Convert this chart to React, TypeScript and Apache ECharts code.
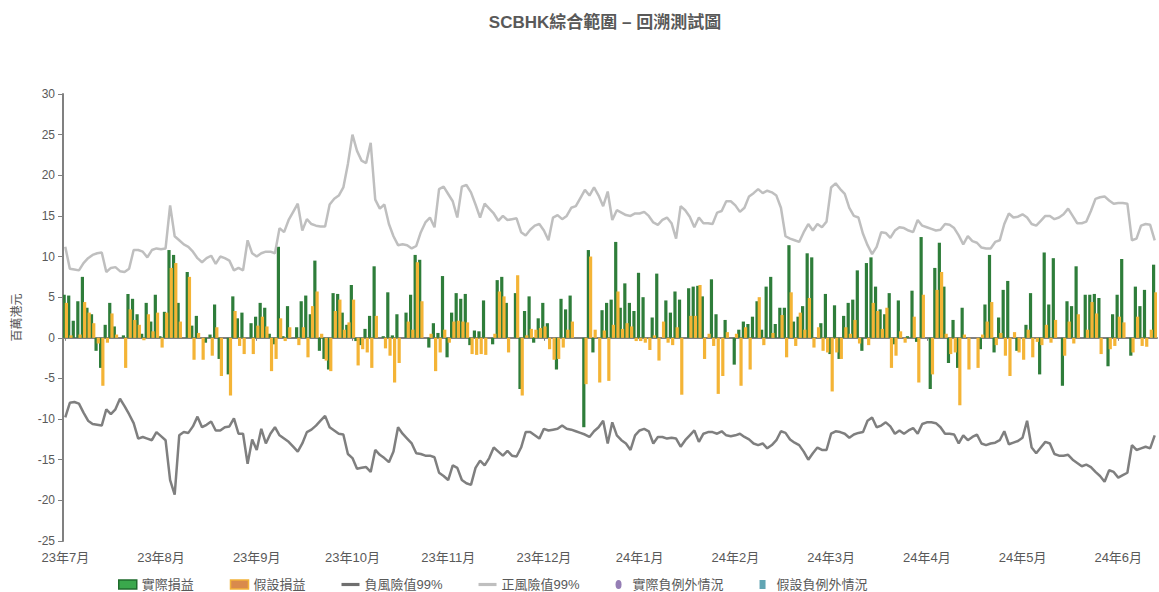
import React, { useEffect, useRef } from "react";
import * as echarts from "echarts";

const monthLabels = ["23年7月", "23年8月", "23年9月", "23年10月", "23年11月", "23年12月", "24年1月", "24年2月", "24年3月", "24年4月", "24年5月", "24年6月"];
const daysPerLabel = 21;
const yTicks = { min: -25, max: 30, interval: 5 };

// 實際損益
const actualPL = [
  5.3, 5.2, 2.1, 4.5, 7.5, 3.7, 2.9, -1.6, -3.7, 1.6, 4.3, 1.4, 0, 0.3, 5.4, 4.8, 2.9, 0.5, 4.3, 2.0,
  5.3, 0.2, 3.2, 10.8, 10.2, 4.3, 0, 8.1, 1.5, 2.7, 0, -0.6, 0.4, 4.1, -2.6, 0, -4.5, 5.1, 2.4, 3.1,
  0, 1.8, 2.6, 4.3, 3.7, 0.5, -0.8, 11.2, 0.2, 3.9, 0, 1.3, 4.5, 5.2, 2.9, 9.5, -1.6, -2.6, -3.9, 5.5,
  5.4, 3.1, 1.6, 6.5, -0.4, -0.9, 1.1, 2.7, 8.8, 0, 0.2, 5.6, 0.3, 2.9, 0, 3.1, 5.3, 10.2, 9.6, 0,
  -1.2, 1.8, 0.6, 7.6, -2.4, 3.1, 5.5, 4.8, 5.4, -0.9, 0.9, 0.8, 4.6, 0, -0.8, 7.1, 7.5, 4.3, 0, 5.5,
  -6.3, 3.3, 5.1, -0.6, 2.4, 4.3, 1.8, 0, -3.9, 4.8, 3.5, 5.2, 0, 0, -11.0, 10.8, -1.8, 0, 3.4, 4.3,
  4.7, 11.8, 3.7, 6.7, 4.3, 3.3, 8.0, 5.0, 0, 2.5, 7.9, 0, 4.6, 3.1, 5.7, 4.7, 0, 6.1, 6.3, 6.4,
  5.1, 0, 7.2, 2.9, 0, 2.2, 0, -3.3, 1.0, 2.0, 1.7, 2.6, 4.5, 1.0, 6.3, 7.5, 1.7, 3.7, 3.7, 11.4,
  2.0, 2.6, 3.9, 10.4, 9.9, 0, 1.8, 5.4, -2.0, 4.0, -2.6, 2.7, 4.3, 4.7, 8.3, -1.6, 9.2, 9.9, 6.3, 3.5,
  2.9, 5.5, -0.8, 4.6, 0, 0.2, 5.8, -0.5, 12.4, 0, -6.3, 8.6, 11.7, 6.3, -3.1, 2.2, -3.7, 3.7, 0, 0,
  0, -1.4, 4.1, 10.2, -1.8, 2.5, 5.9, 7.0, 0, -1.6, 0, 1.6, 5.5, 0, -4.5, 10.5, 4.1, 9.8, 0, -5.9,
  4.5, 3.9, 8.8, 0, 5.3, 5.3, 5.4, 4.9, 0, -3.5, 2.9, 5.3, 9.7, 0, -2.2, 6.3, 3.9, 5.9, 0, 9.0
];

// 假設損益
const hypotheticalPL = [
  4.3, 0.3, 0, 0.4, 4.4, 3.1, 1.8, -0.7, -5.9, -0.6, 3.0, 0.4, 0, -3.7, 3.5, 2.2, 1.6, -0.3, 2.9, 0.8,
  3.1, -1.2, 3.1, 8.6, 9.2, 2.0, 0, 7.5, -2.7, 0.6, -2.7, 0, -2.2, 1.3, -4.7, 0, -7.1, 3.3, -1.0, -2.0,
  0, -2.0, 1.5, 2.6, 1.4, -4.1, -2.6, 2.4, -0.4, 1.3, 0, -0.9, 1.3, -2.4, 3.9, 5.7, 0.5, -2.8, -4.1, 3.3,
  4.7, 1.0, 1.9, 4.7, -3.4, -1.4, -1.8, -3.7, 2.7, 0, -1.3, -2.2, -5.5, -3.1, 0, 2.0, 1.0, 9.3, 4.5, 0,
  0.5, -4.1, -1.8, 1.0, -0.6, 2.0, 2.1, 2.0, 1.9, -2.0, -2.1, -2.0, -2.1, 0, 0.5, 5.7, 5.1, -1.8, 0, 7.7,
  -7.1, 0.3, 1.1, 1.0, 1.2, 1.4, -1.4, -2.7, -2.6, -1.2, 1.0, 2.0, 0, 0, -5.7, 10.0, 1.0, -5.5, 0.9, -5.3,
  1.6, 5.7, 1.1, 1.8, 1.4, -0.4, -0.4, -0.6, -1.5, 0.3, -2.8, 2.0, -0.6, -0.9, 1.3, -7.0, 0, 2.7, 2.7, 6.5,
  -2.6, 0.5, -1.0, -6.9, -4.7, 0.7, 0, 0.5, -5.9, 1.3, -3.9, 0, 5.0, -0.9, 0, 0.6, 0, 2.8, -2.4, 5.6,
  -1.0, 3.1, 1.0, 4.9, -1.2, 1.3, -1.6, -1.8, -6.6, -1.8, -2.6, 1.3, 0.5, 2.2, -0.7, 0, -0.9, 4.3, 3.3, 1.1,
  3.7, -3.7, -2.2, 0.8, -0.6, 0, 2.6, -5.5, 5.3, 0, -4.5, 5.9, 8.1, 0.5, -2.0, -1.8, -8.3, 0.4, -3.9, 0,
  -3.7, 0.4, 2.0, 4.4, -0.9, 0.6, -2.2, -4.7, 0.7, -1.8, -2.7, 1.0, -2.4, -0.5, -0.9, 1.6, -0.6, 2.2, 0, -2.2,
  2.0, -0.7, 2.9, 0, 1.0, 4.4, 3.0, -2.0, 0, -1.4, -1.0, 2.6, 1.9, 0, -1.8, 2.6, -1.0, -1.1, 1.0, 5.6
];

// 負風險值99%
const negVaR = [
  -9.8, -8.0, -7.9, -8.1, -9.2, -10.2, -10.6, -10.7, -10.8, -8.8, -9.4, -8.8, -7.5, -8.4, -9.4, -10.5, -12.4, -12.2, -12.4, -12.6,
  -11.6, -12.1, -12.6, -17.5, -19.3, -12.0, -11.6, -11.7, -10.9, -9.7, -11.0, -10.7, -10.3, -11.4, -11.4, -11.0, -10.9, -9.9, -11.8, -11.8,
  -15.5, -12.5, -13.8, -11.2, -13.0, -11.8, -11.0, -12.0, -12.4, -12.8, -13.4, -14.0, -13.0, -11.6, -11.3, -10.8, -10.2, -9.6, -11.0, -11.4,
  -11.8, -11.9, -14.3, -14.8, -16.1, -16.0, -15.9, -16.5, -13.8, -14.4, -14.8, -15.3, -14.0, -11.0, -11.8, -12.4, -13.0, -14.2, -14.3, -14.5,
  -14.5, -14.7, -16.6, -17.0, -17.5, -15.7, -16.0, -17.5, -17.9, -18.1, -16.0, -15.1, -15.7, -14.8, -13.5, -14.0, -14.5, -13.9, -14.5, -14.6,
  -13.5, -11.6, -11.6, -12.0, -12.4, -11.2, -11.4, -11.3, -11.2, -10.8, -11.2, -11.3, -11.5, -11.7, -11.9, -12.2, -11.5, -11.0, -10.2, -13.0,
  -10.4, -12.0, -12.6, -13.0, -13.8, -12.0, -11.4, -11.2, -11.5, -13.0, -12.2, -12.2, -12.4, -12.3, -12.4, -13.4, -12.6, -12.0, -11.4, -12.8,
  -11.8, -11.6, -11.6, -11.8, -11.5, -12.0, -12.1, -12.0, -11.8, -12.2, -12.5, -13.0, -13.2, -13.0, -13.6, -13.2, -12.6, -11.5, -11.7, -12.5,
  -12.9, -13.2, -14.0, -15.0, -14.2, -13.5, -13.8, -13.8, -11.8, -11.5, -11.6, -11.8, -12.3, -11.9, -11.7, -11.6, -10.2, -9.8, -11.0, -10.8,
  -10.4, -10.9, -11.8, -11.4, -11.8, -11.4, -11.1, -11.8, -10.6, -10.4, -10.4, -10.5, -11.0, -11.8, -11.8, -11.9, -13.0, -12.0, -12.6, -12.2,
  -11.9, -13.0, -13.2, -13.0, -12.9, -12.6, -11.5, -13.1, -12.9, -12.7, -12.3, -10.2, -13.5, -14.2, -13.5, -12.8, -13.0, -14.3, -14.5, -14.5,
  -14.4, -15.0, -15.4, -15.8, -15.6, -15.9, -16.5, -17.0, -17.7, -16.3, -16.5, -17.2, -16.9, -16.6, -13.2, -13.8, -13.6, -13.4, -13.6, -12.0
];

// 正風險值99%
const posVaR = [
  11.2, 8.5, 8.4, 8.3, 9.2, 9.8, 10.2, 10.4, 10.5, 8.1, 8.6, 8.7, 8.2, 8.1, 8.5, 10.8, 10.8, 10.6, 9.9, 10.8,
  11.0, 10.9, 11.0, 16.3, 12.5, 12.0, 11.5, 11.2, 10.6, 9.8, 9.3, 9.8, 10.1, 9.1, 10.0, 9.8, 9.5, 8.3, 8.6, 8.3,
  12.0, 10.4, 10.0, 10.4, 10.6, 10.6, 10.4, 13.5, 13.0, 14.5, 15.5, 16.5, 13.2, 14.6, 14.0, 13.8, 13.7, 13.7, 16.4, 17.1,
  17.5, 18.5, 21.4, 25.0, 23.0, 21.8, 21.5, 24.0, 17.0, 15.9, 16.4, 14.0, 12.5, 11.4, 11.5, 11.4, 11.0, 11.3, 13.0, 14.2,
  14.8, 13.6, 18.3, 18.6, 17.7, 16.8, 14.8, 18.6, 18.8, 17.9, 16.4, 14.8, 16.5, 15.9, 15.3, 14.4, 15.0, 14.5, 14.6, 14.7,
  13.0, 12.6, 13.3, 13.8, 14.0, 13.2, 12.0, 14.8, 15.1, 14.6, 15.0, 16.0, 16.2, 17.2, 18.2, 17.5, 18.5, 17.5, 16.2, 18.0,
  14.5, 15.7, 15.4, 15.1, 15.0, 15.3, 15.3, 15.5, 15.0, 14.2, 13.9, 14.5, 14.8, 14.1, 12.2, 16.2, 15.7, 14.9, 13.6, 14.8,
  14.1, 14.1, 14.0, 15.4, 15.6, 16.8, 16.8, 16.3, 15.5, 16.0, 17.4, 17.8, 18.3, 17.8, 18.1, 17.9, 17.5, 16.0, 12.5, 12.2,
  12.0, 11.8, 13.0, 14.0, 13.2, 14.0, 13.6, 14.3, 18.5, 19.0, 18.3, 17.7, 16.0, 15.0, 14.8, 12.8, 11.4, 10.3, 11.2, 13.0,
  12.9, 12.3, 13.2, 13.6, 13.5, 13.2, 13.0, 14.5, 13.8, 13.6, 13.4, 13.2, 13.3, 14.0, 13.9, 13.5, 12.6, 11.5, 12.5, 11.9,
  11.7, 11.1, 11.0, 11.0, 11.8, 12.0, 14.0, 15.3, 14.8, 14.9, 15.2, 14.8, 14.0, 13.8, 14.4, 15.0, 15.0, 14.6, 14.8, 15.2,
  15.9, 15.0, 14.1, 14.1, 14.3, 15.6, 17.1, 17.3, 17.4, 16.9, 16.5, 16.6, 16.6, 16.5, 12.0, 12.2, 13.8, 14.0, 13.9, 12.0
];

// 實際負例外情況 / 假設負例外情況 (none in the period)
const actualExceptions: number[][] = [];
const hypotheticalExceptions: number[][] = [];

const categories = actualPL.map((_, i) => String(i));

export default function App() {
  const ref = useRef<HTMLDivElement>(null);
  useEffect(() => {
    document.body.style.margin = "0";
    if (!ref.current) return;
    const chart = echarts.init(ref.current, undefined, { renderer: "svg" });
    const textColor = "#595959";
    const font = "'Liberation Sans', 'Noto Sans CJK TC', sans-serif";
    const labelFmt = (_v: string, idx: number) =>
      idx % daysPerLabel === 0 ? monthLabels[idx / daysPerLabel] ?? "" : "";
    const lineIcon = "path://M0 0 H20 V3.5 H0 Z";
    chart.setOption({
      animation: false,
      textStyle: { fontFamily: font },
      title: {
        text: "SCBHK綜合範圍 – 回溯測試圖",
        left: 600,
        textAlign: "center",
        top: 9,
        textStyle: { fontSize: 17, fontWeight: "bold", color: textColor, fontFamily: font },
      },
      grid: { left: 63, right: 2, top: 94, bottom: 51, containLabel: false },
      legend: {
        left: 118,
        top: 578,
        padding: 0,
        itemWidth: 18,
        itemHeight: 9,
        itemGap: 36,
        textStyle: { fontSize: 13, color: textColor, fontFamily: font },
        data: [
          { name: "實際損益", icon: "rect", itemStyle: { color: "#3AA84C", borderColor: "#1F6B2C", borderWidth: 1.5 } },
          { name: "假設損益", icon: "rect", itemStyle: { color: "#D98A4C", borderColor: "#F2B33A", borderWidth: 1.5 } },
          { name: "負風險值99%", icon: lineIcon, itemStyle: { color: "#6F6F6F" } },
          { name: "正風險值99%", icon: lineIcon, itemStyle: { color: "#BFBFBF" } },
          { name: "實際負例外情況", icon: "path://M5 0 A5 7.5 0 1 1 5 15 A5 7.5 0 1 1 5 0 Z" },
          { name: "假設負例外情況", icon: "path://M0 0 H8 V12 H0 Z" },
        ],
      },
      xAxis: [
        {
          type: "category",
          data: categories,
          position: "bottom",
          boundaryGap: true,
          axisLine: { onZero: true, lineStyle: { color: "#808080", width: 2 } },
          axisTick: { show: true, interval: daysPerLabel - 1, alignWithLabel: true, length: 3, lineStyle: { color: "#808080" } },
          axisLabel: { show: false },
          splitLine: { show: false },
        },
        {
          type: "category",
          data: categories,
          position: "bottom",
          boundaryGap: true,
          axisLine: { show: false, onZero: false },
          axisTick: { show: false },
          axisLabel: { interval: daysPerLabel - 1, formatter: labelFmt, color: textColor, fontSize: 13, margin: 10, fontFamily: font },
          splitLine: { show: false },
        },
      ],
      yAxis: {
        type: "value",
        min: yTicks.min,
        max: yTicks.max,
        interval: yTicks.interval,
        name: "百萬港元",
        nameLocation: "middle",
        nameGap: 40,
        nameTextStyle: { color: textColor, fontSize: 12, fontFamily: font },
        axisLine: { show: true, lineStyle: { color: "#808080", width: 2 } },
        axisTick: { show: true, length: 5, lineStyle: { color: "#808080" } },
        axisLabel: { color: textColor, fontSize: 12, margin: 8 },
        splitLine: { show: false },
      },
      series: [
        {
          name: "實際損益",
          type: "bar",
          xAxisIndex: 0,
          data: actualPL,
          barWidth: 3.2,
          itemStyle: { color: "#2E7D3A" },
        },
        {
          name: "假設損益",
          type: "bar",
          xAxisIndex: 0,
          data: hypotheticalPL,
          barWidth: 3.2,
          barGap: "-30%",
          itemStyle: { color: "#F4B436" },
        },
        {
          name: "負風險值99%",
          type: "line",
          xAxisIndex: 0,
          data: negVaR,
          symbol: "none",
          lineStyle: { color: "#7F7F7F", width: 2.5 },
          itemStyle: { color: "#7F7F7F" },
        },
        {
          name: "正風險值99%",
          type: "line",
          xAxisIndex: 0,
          data: posVaR,
          symbol: "none",
          lineStyle: { color: "#BFBFBF", width: 2.5 },
          itemStyle: { color: "#BFBFBF" },
        },
        {
          name: "實際負例外情況",
          type: "scatter",
          xAxisIndex: 0,
          data: actualExceptions,
          itemStyle: { color: "#7B5EA3" },
        },
        {
          name: "假設負例外情況",
          type: "scatter",
          xAxisIndex: 0,
          data: hypotheticalExceptions,
          symbol: "rect",
          itemStyle: { color: "#3A8FA0" },
        },
      ],
    });
    return () => chart.dispose();
  }, []);
  return <div ref={ref} style={{ position: "absolute", left: 0, top: 0, width: 1159, height: 592 }} />;
}
